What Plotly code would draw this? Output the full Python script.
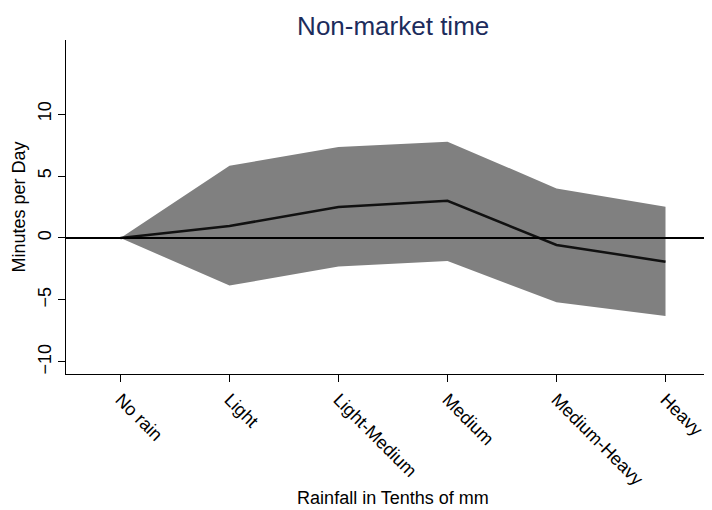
import plotly.graph_objects as go

# Rainfall categories and estimated effects (minutes per day)
categories = ["No rain", "Light", "Light-Medium", "Medium", "Medium-Heavy", "Heavy"]
estimate = [0.0, 0.97, 2.5, 3.0, -0.56, -1.91]
upper_ci = [0.0, 5.83, 7.34, 7.77, 4.0, 2.53]
lower_ci = [0.0, -3.84, -2.3, -1.85, -5.19, -6.29]
y_ticks = [-10, -5, 0, 5, 10]

positions = list(range(1, len(categories) + 1))

fig = go.Figure()

# Confidence band
fig.add_trace(go.Scatter(
    x=positions, y=upper_ci, mode='lines',
    line=dict(width=0, color='#808080'), showlegend=False, hoverinfo='skip'
))
fig.add_trace(go.Scatter(
    x=positions, y=lower_ci, mode='lines', fill='tonexty',
    fillcolor='#808080', line=dict(width=0, color='#808080'),
    showlegend=False, hoverinfo='skip'
))

# Zero reference line
fig.add_shape(type='line', xref='paper', x0=0, x1=1, yref='y', y0=0, y1=0,
              line=dict(color='black', width=2))

# Point estimates
fig.add_trace(go.Scatter(
    x=positions, y=estimate, mode='lines',
    line=dict(color='#111111', width=2.5), showlegend=False
))

axis_font = dict(family='Liberation Sans, Arial, sans-serif', size=18, color='black')

fig.update_layout(
    width=712, height=510,
    margin=dict(l=58, r=0, t=32, b=144),
    plot_bgcolor='white', paper_bgcolor='white',
    font=axis_font,
    title=dict(text='Non-market time', x=0.541, xanchor='center', y=0.982, yanchor='top',
               font=dict(family='Liberation Sans, Arial, sans-serif', size=26, color='#1c2c5c')),
    xaxis=dict(
        range=[0.5, 6.5], tickmode='array', tickvals=positions, ticktext=categories,
        tickangle=45, ticks='outside', ticklen=7, tickcolor='black',
        showline=True, linecolor='black', linewidth=1, showgrid=False, zeroline=False,
        title=dict(text='Rainfall in Tenths of mm', standoff=3, font=axis_font),
        tickfont=axis_font, automargin=False,
    ),
    yaxis=dict(
        range=[-10.97, 15.97], tickmode='array', tickvals=y_ticks,
        tickangle=-90, ticks='outside', ticklen=7, tickcolor='black',
        showline=True, linecolor='black', linewidth=1, showgrid=False, zeroline=False,
        title=dict(text='Minutes per Day', standoff=4, font=axis_font),
        tickfont=axis_font, automargin=False,
    ),
)

fig.write_html("out.html")
